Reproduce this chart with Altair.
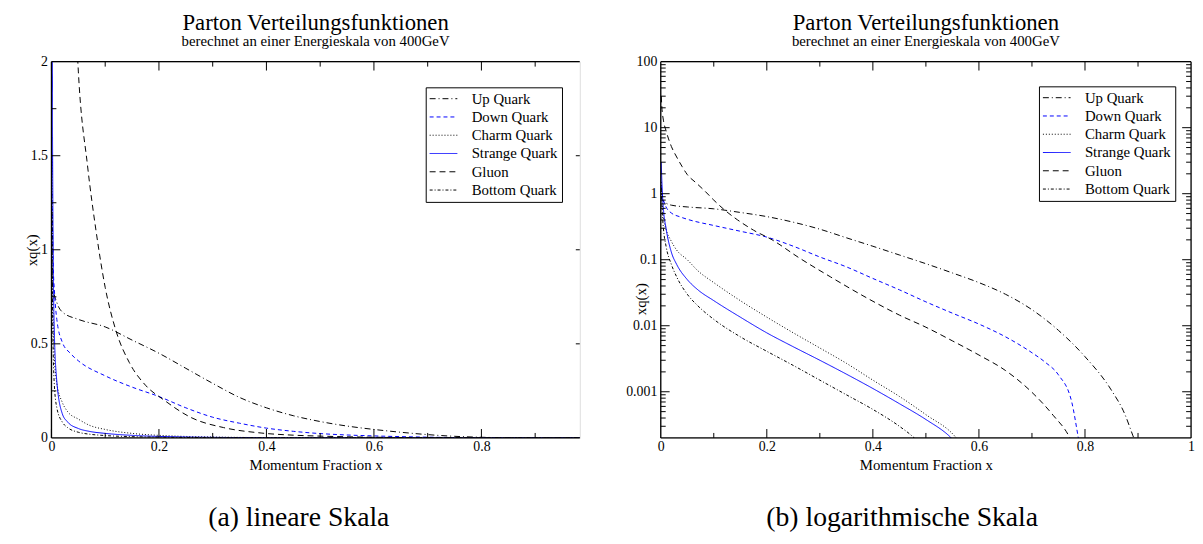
import altair as alt
import pandas as pd

# ---------------- data ----------------
names = ["Up Quark", "Down Quark", "Charm Quark", "Strange Quark", "Gluon", "Bottom Quark"]

up_x = [0.001, 0.003, 0.01, 0.02, 0.05, 0.1, 0.15, 0.2, 0.25, 0.3, 0.35, 0.4, 0.45, 0.5,
        0.55, 0.6, 0.65, 0.7, 0.75, 0.8, 0.85, 0.875, 0.89, 0.92, 0.983]
up_y = [0.9, 0.8, 0.72, 0.67, 0.63, 0.59, 0.52, 0.45, 0.37, 0.29, 0.215, 0.16, 0.118, 0.087,
        0.063, 0.045, 0.030, 0.0175, 0.0085, 0.0034, 0.00105, 0.00046, 0.00022, 0.00005, 1e-7]

down_x = [0.001, 0.003, 0.006, 0.01, 0.02, 0.035, 0.05, 0.1, 0.15, 0.2, 0.25, 0.3, 0.35, 0.4,
          0.45, 0.5, 0.55, 0.6, 0.65, 0.7, 0.725, 0.75, 0.775, 0.787, 0.8, 0.983]
down_y = [1.3, 0.95, 0.76, 0.63, 0.51, 0.45, 0.41, 0.33, 0.27, 0.22, 0.16, 0.11, 0.078, 0.052,
          0.035, 0.023, 0.0155, 0.0106, 0.0068, 0.0039, 0.0028, 0.0018, 0.0007, 0.00021,
          0.00005, 1e-7]

charm_x = [0.001, 0.002, 0.005, 0.01, 0.02, 0.03, 0.05, 0.07, 0.1, 0.15, 0.2, 0.25, 0.3, 0.35,
           0.4, 0.45, 0.5, 0.555, 0.6, 0.983]
charm_y = [1.5, 0.9, 0.45, 0.29, 0.19, 0.14, 0.1, 0.068, 0.045, 0.024, 0.0135, 0.0078, 0.0046,
           0.0027, 0.0015, 0.00085, 0.00045, 0.00021, 0.00006, 1e-8]

strange_x = [0.001, 0.002, 0.005, 0.01, 0.02, 0.03, 0.05, 0.07, 0.1, 0.15, 0.2, 0.25, 0.3, 0.35,
             0.4, 0.45, 0.5, 0.545, 0.6, 0.983]
strange_y = [3.0, 1.6, 0.6, 0.3, 0.13, 0.085, 0.05, 0.035, 0.024, 0.0135, 0.0078, 0.0048, 0.003,
             0.00185, 0.00112, 0.00066, 0.00038, 0.00021, 0.00006, 1e-8]

gluon_x = [0.001, 0.002, 0.005, 0.01, 0.02, 0.03, 0.04, 0.05, 0.067, 0.083, 0.1, 0.12, 0.145,
           0.175, 0.21, 0.26, 0.32, 0.39, 0.45, 0.5, 0.55, 0.6, 0.65, 0.7, 0.74, 0.77, 0.8, 0.983]
gluon_y = [30, 21, 13, 9, 5.2, 3.6, 2.6, 1.95, 1.45, 1.1, 0.8, 0.57, 0.4, 0.28, 0.2, 0.108,
           0.055, 0.026, 0.0145, 0.0095, 0.0059, 0.0036, 0.0021, 0.00098, 0.00044, 0.00021,
           0.00005, 1e-8]

bottom_x = [0.001, 0.002, 0.005, 0.01, 0.02, 0.03, 0.05, 0.07, 0.1, 0.15, 0.2, 0.25, 0.3, 0.35,
            0.4, 0.45, 0.475, 0.52, 0.983]
bottom_y = [1.2, 0.7, 0.3, 0.16, 0.085, 0.055, 0.03, 0.02, 0.0125, 0.0068, 0.0041, 0.0025,
            0.0015, 0.0009, 0.00054, 0.0003, 0.00021, 0.00008, 1e-8]

series = [(names[0], up_x, up_y), (names[1], down_x, down_y), (names[2], charm_x, charm_y),
          (names[3], strange_x, strange_y), (names[4], gluon_x, gluon_y),
          (names[5], bottom_x, bottom_y)]

rows = []
for nm, xs, ys in series:
    for xv, yv in zip(xs, ys):
        rows.append({"series": nm, "x": xv, "y": yv})
df = pd.DataFrame(rows)

# tick values
lin_x_major = [0, 0.2, 0.4, 0.6, 0.8]
lin_x_minor = [0.1, 0.3, 0.5, 0.7, 0.9]
lin_y_major = [0, 0.5, 1, 1.5, 2]
lin_y_minor = [0.25, 0.75, 1.25, 1.75]
log_x_major = [0, 0.2, 0.4, 0.6, 0.8, 1]
log_x_minor = [0.1, 0.3, 0.5, 0.7, 0.9]
log_y_major = [0.001, 0.01, 0.1, 1, 10, 100]
log_y_minor = [m * 10 ** e for e in range(-4, 2) for m in range(2, 10)
               if 0.0002 < m * 10 ** e < 100]

FONT = "Liberation Serif"
W1, W2, H = 535, 537, 381
MAJ, MIN = 9, 5

color_range = ["black", "#0000ff", "black", "#0000ff", "black", "black"]
dash_range = [[6, 3, 1, 3], [4, 3], [1, 2], [1, 0], [6, 4], [3, 2, 1, 2]]


def legend(lx, ly):
    return alt.Legend(title=None, orient="none", legendX=lx, legendY=ly,
                      symbolType="M-2,0H2", symbolSize=196, symbolStrokeWidth=1,
                      symbolOffset=6.5, labelOffset=21, labelFont=FONT, labelFontSize=15,
                      labelColor="black", labelLimit=0, padding=4, rowPadding=2.5,
                      strokeColor="black", fillColor="white", cornerRadius=0)


def axis_x(vals):
    return alt.Axis(values=vals, format="~g", title="Momentum Fraction x", ticks=False,
                    tickSize=0, domain=False, grid=False, labelFlush=False,
                    labelFont=FONT, labelFontSize=14, labelColor="black", labelPadding=2,
                    titleFont=FONT, titleFontSize=15, titleFontWeight="normal",
                    titleColor="black", titlePadding=4)


def axis_y(vals, ty):
    return alt.Axis(values=vals, format="~g", title="xq(x)", ticks=False, tickSize=0,
                    domain=False, grid=False, labelFont=FONT, labelFontSize=14,
                    labelColor="black", labelPadding=4, titleFont=FONT, titleFontSize=15,
                    titleFontWeight="normal", titleColor="black", titleX=-20, titleY=ty,
                    titleBaseline="middle")


def tick_layers(xscale, yscale, xax, yax, W, xmaj, xmin, ymaj, ymin, right_major_len,
                right_minor):
    layers = []
    for vals, ln in [(xmaj, MAJ), (xmin, MIN)]:
        d = pd.DataFrame({"x": vals})
        base = alt.Chart(d).mark_rule(color="black", strokeWidth=1)
        layers.append(base.encode(x=alt.X("x:Q", scale=xscale, axis=xax),
                                  y=alt.value(H), y2=alt.value(H - ln)))
        layers.append(base.encode(x=alt.X("x:Q", scale=xscale, axis=xax),
                                  y=alt.value(0), y2=alt.value(ln)))
    for vals, ln, rl in [(ymaj, MAJ, right_major_len), (ymin, MIN, MIN if right_minor else 0)]:
        d = pd.DataFrame({"y": vals})
        base = alt.Chart(d).mark_rule(color="black", strokeWidth=1)
        layers.append(base.encode(y=alt.Y("y:Q", scale=yscale, axis=yax),
                                  x=alt.value(0), x2=alt.value(ln)))
        if rl > 0:
            layers.append(base.encode(y=alt.Y("y:Q", scale=yscale, axis=yax),
                                      x=alt.value(W), x2=alt.value(W - rl)))
    return layers


def border(W, sides):
    one = pd.DataFrame({"a": [0]})
    out = []
    b = alt.Chart(one).mark_rule(color="black", strokeWidth=1.3)
    if "top" in sides:
        out.append(b.encode(x=alt.value(0), x2=alt.value(W), y=alt.value(0)))
    if "bottom" in sides:
        out.append(b.encode(x=alt.value(0), x2=alt.value(W), y=alt.value(H)))
    if "left" in sides:
        out.append(b.encode(y=alt.value(0), y2=alt.value(H), x=alt.value(0)))
    if "right" in sides:
        out.append(b.encode(y=alt.value(0), y2=alt.value(H), x=alt.value(W)))
    return out


def caption(text, cx):
    d = pd.DataFrame({"t": [text]})
    return alt.Chart(d).mark_text(font=FONT, fontSize=28, color="black", align="center",
                                  baseline="middle").encode(
        text="t:N", x=alt.value(cx), y=alt.value(H + 81))


def title():
    return alt.TitleParams("Parton Verteilungsfunktionen",
                           subtitle="berechnet an einer Energieskala von 400GeV",
                           font=FONT, fontSize=23, fontWeight="normal", color="black",
                           subtitleFont=FONT, subtitleFontSize=15, subtitleColor="black",
                           subtitlePadding=-1, anchor="middle", frame="group", offset=6)


def panel(W, xscale, yscale, xvals, yvals, ty, leg, tick_args, sides, cap, cx):
    xax, yax = axis_x(xvals), axis_y(yvals, ty)
    curves = alt.Chart(df).mark_line(clip=True, strokeWidth=1, interpolate="monotone").encode(
        x=alt.X("x:Q", scale=xscale, axis=xax),
        y=alt.Y("y:Q", scale=yscale, axis=yax),
        color=alt.Color("series:N", scale=alt.Scale(domain=names, range=color_range),
                        legend=leg),
        strokeDash=alt.StrokeDash("series:N", scale=alt.Scale(domain=names, range=dash_range),
                                  legend=leg),
    )
    ticks = tick_layers(xscale, yscale, xax, yax, W, *tick_args)
    return alt.layer(curves, *ticks, *border(W, sides), caption(cap, cx)).properties(
        width=W, height=H, title=title())


xs_lin = alt.Scale(domain=[0, 0.983], nice=False, zero=False)
ys_lin = alt.Scale(domain=[0, 2], nice=False, zero=False)
xs_log = alt.Scale(domain=[0, 1], nice=False, zero=False)
ys_log = alt.Scale(type="log", domain=[0.0002, 100], nice=False)

left = panel(W1, xs_lin, ys_lin, lin_x_major, lin_y_major, H / 2, legend(379, 26),
             (lin_x_major, lin_x_minor, lin_y_major[1:-1], lin_y_minor, 4, False),
             ["top", "bottom", "left"], "(a) lineare Skala", W1 / 2 - 17)
right = panel(W2, xs_log, ys_log, log_x_major, log_y_major, H * 0.63, legend(383, 25),
              (log_x_major[1:-1], log_x_minor, log_y_major[:-1], log_y_minor, MAJ, True),
              ["top", "bottom", "left", "right"], "(b) logarithmische Skala", W2 / 2 - 24)

chart = alt.hconcat(left, right, spacing=44).resolve_scale(
    color="independent", strokeDash="independent"
).properties(
    padding={"left": 16, "top": 0, "right": 0, "bottom": 0}
).configure_view(stroke=None).configure(background="white")

chart.save("out.html", embed_options={"renderer": "svg", "actions": False})
